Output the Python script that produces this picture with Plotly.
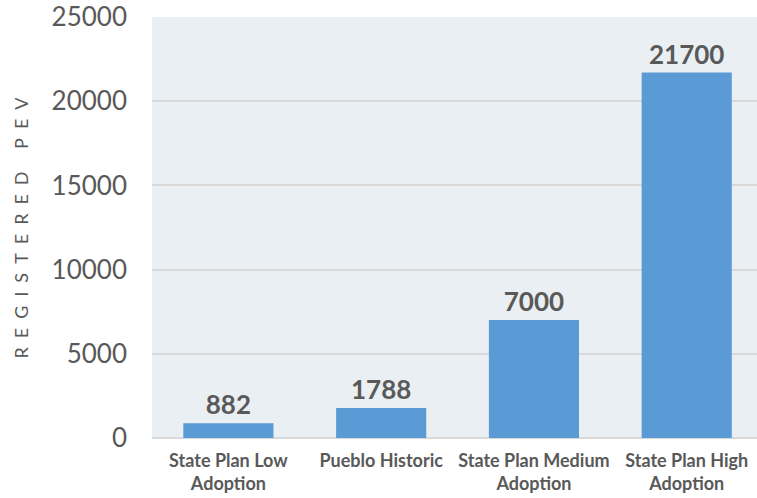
import plotly.graph_objects as go

categories = ["State Plan Low<br>Adoption", "Pueblo Historic", "State Plan Medium<br>Adoption", "State Plan High<br>Adoption"]
values = [882, 1788, 7000, 21700]
y_ticks = [0, 5000, 10000, 15000, 20000, 25000]
y_title = "REGISTERED PEV"

L, R, T, B = 152, 0, 17, 60
W, H = 757, 498

sp = "\u2002"
spaced_title = sp.join(" " if c == " " else c for c in y_title)

fig = go.Figure(go.Bar(
    x=categories, y=values,
    marker=dict(color="#5B9BD5", line=dict(width=0)),
    text=[str(v) for v in values], textposition="outside",
    textfont=dict(family="Lato", size=26, color="#595959", weight="bold"),
    cliponaxis=False,
))

fig.update_layout(
    width=W, height=H,
    margin=dict(l=L, r=R, t=T, b=B, autoexpand=False),
    paper_bgcolor="white", plot_bgcolor="#EAEFF4",
    bargap=0.41, showlegend=False,
    font=dict(family="Lato", color="#595959"),
    annotations=[dict(
        text=spaced_title, textangle=-90, showarrow=False,
        xref="paper", yref="paper",
        x=-(L - 20) / (W - L - R), y=0.5, xanchor="center", yanchor="middle",
        font=dict(family="Lato", size=18, color="#595959"),
    )],
)
fig.update_xaxes(
    automargin=False, range=[-0.5, 3.46],
    showgrid=False, showline=False, ticks="",
    tickfont=dict(family="Lato", size=18, color="#595959", weight="bold"),
    ticklabelstandoff=10, tickangle=0, ticklabeloverflow="allow",
)
fig.update_yaxes(
    automargin=False,
    range=[0, 25000], tickvals=y_ticks, ticktext=[str(t) for t in y_ticks],
    showgrid=True, gridcolor="#D9D9D9", gridwidth=1.5,
    zeroline=True, zerolinecolor="#D9D9D9", zerolinewidth=1.5,
    tickfont=dict(family="Lato", size=26, color="#595959"),
    ticklabelstandoff=24, ticklabeloverflow="allow",
)

fig.write_html(
    "out.html",
    config={"displayModeBar": False},
    post_script="document.body.style.margin='0';document.body.style.overflow='hidden';",
)
